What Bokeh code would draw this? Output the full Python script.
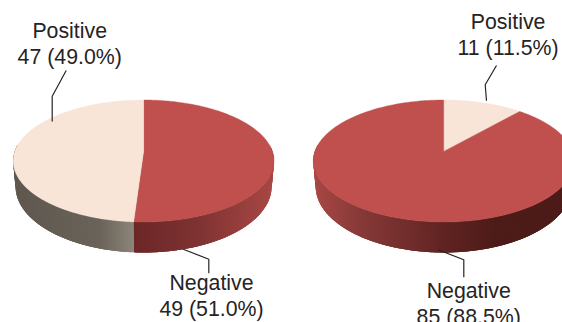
import numpy as np
from bokeh.core.properties import value
from bokeh.embed import file_html
from bokeh.models import Range1d
from bokeh.plotting import figure
from bokeh.resources import INLINE

# Counts and printed shares for each pie, in clockwise order from 12 o'clock
left_categories = ["Negative", "Positive"]
left_counts = [49, 47]
left_shares = [51.0, 49.0]
right_categories = ["Positive", "Negative"]
right_counts = [11, 85]
right_shares = [11.5, 88.5]

# Drawing constants, in page pixels
W, H = 562, 322
RX, RY, CY = 130.4, 61.0, 160.5        # top face ellipse
BOT_RX, BOT_RY, BOT_CY = 128.0, 66.0, 186.0  # lower rim ellipse
TILT = 0.854                           # perspective squeeze of slice angles
TOP_COLORS = {"Negative": "#c0504d", "Positive": "#f9e5d8"}
INK = "#262324"
TEXT_LIFT = 9                          # from the label anchor to the drawn baseline


def rgb(stops, x):
    xs, cols = zip(*stops)
    cols = np.array([[int(c[i:i + 2], 16) for i in (1, 3, 5)] for c in cols])
    return "#%02x%02x%02x" % tuple(int(round(np.interp(x, xs, cols[:, k]))) for k in range(3))


def project(theta):
    """Turn a clockwise angle from 12 o'clock into the angle on the tilted ellipse."""
    half = np.asarray(theta, dtype=float) / 2
    return 2 * np.arctan2(TILT * np.sin(half), np.cos(half))


def top_point(cx, t):
    return cx + RX * np.sin(t), CY - RY * np.cos(t)


def bottom_point(cx, t):
    return cx + BOT_RX * np.sin(t), BOT_CY - BOT_RY * np.cos(t)


def slice_spans(counts):
    ends = 2 * np.pi * np.cumsum(counts) / sum(counts)
    starts = np.concatenate([[0.0], ends[:-1]])
    spans = []
    for a0, a1 in zip(starts, ends):
        t0 = project(a0) % (2 * np.pi)
        t1 = project(a1) % (2 * np.pi)
        if t1 <= t0:
            t1 += 2 * np.pi
        spans.append((t0, t1))
    return spans


def draw_pie(p, cx, cats, counts, side_stops):
    spans = slice_spans(counts)
    apex_y = CY - RY * np.cos(project(np.pi / 2))

    # Rim: narrow shaded quads painted in order, each one running under the next
    xs, ys, colors = [], [], []
    for cat, (t0, t1) in zip(cats, spans):
        steps = np.linspace(t0, t1, max(2, int((t1 - t0) / 0.012)))
        for i in range(len(steps) - 1):
            u, v = steps[i], steps[min(i + 3, len(steps) - 1)]
            if np.cos((u + steps[i + 1]) / 2) > 0.25:
                continue
            tx0, ty0 = top_point(cx, u)
            tx1, ty1 = top_point(cx, v)
            bx0, by0 = bottom_point(cx, u)
            bx1, by1 = bottom_point(cx, v)
            xs.append([tx0, tx1, bx1, bx0])
            ys.append([ty0, ty1, by1, by0])
            colors.append(rgb(side_stops[cat], (tx0 + bx0) / 2))
    p.patches(xs, ys, fill_color=colors, line_color=None)

    # Top face, one wedge per category
    for cat, (t0, t1) in zip(cats, spans):
        ax, ay = top_point(cx, np.linspace(t0, t1, 240))
        p.patch(np.r_[cx, ax], np.r_[apex_y, ay], fill_color=TOP_COLORS[cat],
                line_color=TOP_COLORS[cat], line_width=0.4)


def draw_label(p, x, base, cat, count, share):
    y = base - TEXT_LIFT
    p.text([x, x], [y, y + 26], text=[cat, f"{count} ({share:.1f}%)"],
           text_align="center", text_baseline="alphabetic", text_color=INK,
           text_font=value("Liberation Sans"), text_font_size="21.3px")


p = figure(width=W, height=H, output_backend="svg", toolbar_location=None,
           x_range=Range1d(0, W), y_range=Range1d(H, 0), min_border=0,
           background_fill_color="white", border_fill_color="white", outline_line_color=None)
p.axis.visible = False
p.grid.visible = False

draw_pie(p, 143.1, left_categories, left_counts, {
    "Positive": [(15, "#5f5850"), (100, "#6a6359"), (133, "#8b8479")],
    "Negative": [(134, "#6c2727"), (200, "#803333"), (272, "#a84845")],
})
draw_pie(p, 443.2, right_categories, right_counts, {
    "Positive": [(443, "#8b8479"), (574, "#5f5850")],
    "Negative": [(315, "#a84845"), (360, "#873a38"), (443, "#612422"),
                 (495, "#4d1c19"), (574, "#4d1c19")],
})

# Leader lines from the labels to their slices
for lx, ly in [
    ([65.7, 51.7, 51.7], [70, 95.7, 121]),
    ([182.7, 208.3, 208.3], [248.7, 258.7, 272.7]),
    ([496, 484.7, 486], [65, 84.3, 100.3]),
    ([437.7, 463.3, 463.3], [249.3, 259.3, 276.7]),
]:
    p.line(lx, ly, line_color=INK, line_width=1.2)

draw_label(p, 69.2, 39.5, left_categories[1], left_counts[1], left_shares[1])
draw_label(p, 211, 291.3, left_categories[0], left_counts[0], left_shares[0])
draw_label(p, 507.6, 30, right_categories[0], right_counts[0], right_shares[0])
draw_label(p, 468.2, 299.3, right_categories[1], right_counts[1], right_shares[1])

open("out.html", "w").write(file_html(p, INLINE))
